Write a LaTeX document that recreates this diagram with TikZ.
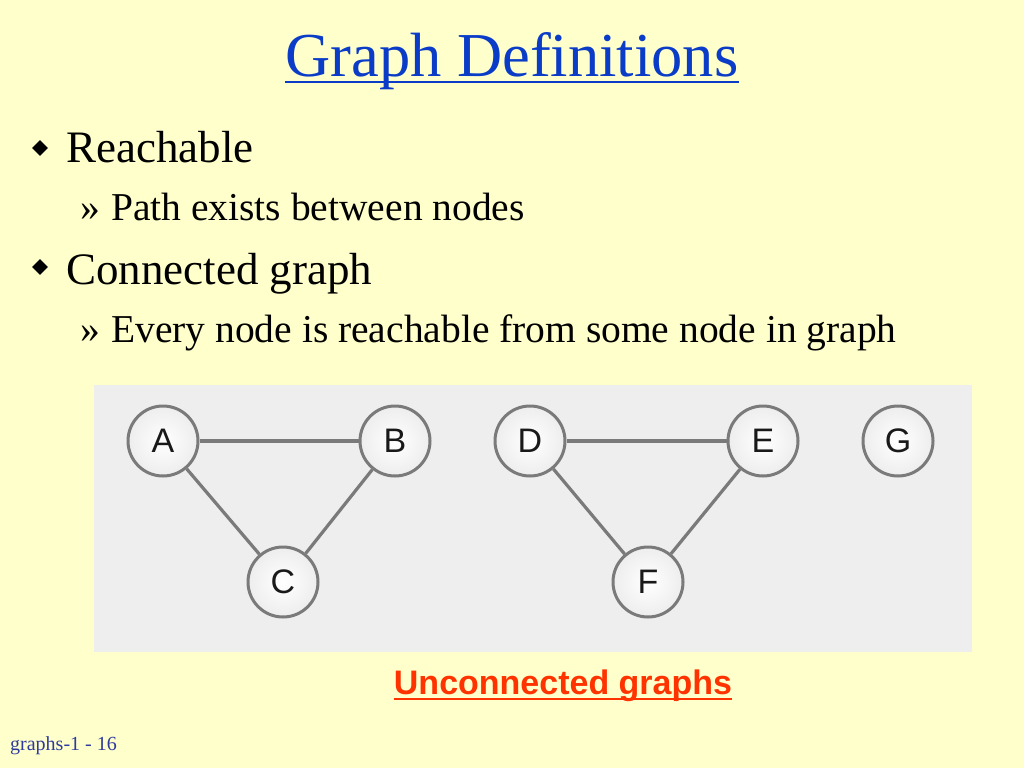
\documentclass[tikz,border=0pt]{standalone}
\usepackage{fontspec}
\setmainfont{Liberation Serif}
\setsansfont{Liberation Sans}
\usepackage{tikz}
\usetikzlibrary{calc,shapes.geometric}
\definecolor{slideYellow}{HTML}{FFFFCC}
\definecolor{slidePanel}{HTML}{EEEEEE}
\definecolor{titleBlue}{HTML}{0A3CC8}
\definecolor{footBlue}{HTML}{2E3B9E}
\definecolor{edgeGray}{HTML}{7A7A7A}
\definecolor{noteRed}{HTML}{FF3300}
\tikzset{
  vertex/.style={
    circle,
    draw=edgeGray,
    line width=3pt,
    inner color=white,
    outer color=black!7,
    minimum size=70pt,
    inner sep=0pt,
    text=black!90,
    font=\sffamily\fontsize{34}{34}\selectfont
  },
  edge/.style={draw=edgeGray, line width=3.2pt},
  bullet/.style={diamond, fill=black, inner sep=0pt, minimum size=16pt},
  item/.style={anchor=base west, inner sep=0pt, font=\fontsize{45}{45}\selectfont},
  subitem/.style={anchor=base west, inner sep=0pt, font=\fontsize{39.5}{40}\selectfont}
}

\begin{document}
\begin{tikzpicture}[x=1pt, y=-1pt]
  \useasboundingbox[fill=slideYellow] (0,0) rectangle (1024,768);

  % title
  \node[anchor=base, inner sep=0pt, text=titleBlue, font=\fontsize{62.5}{63}\selectfont] (title) at (512,76) {Graph Definitions};
  \draw[titleBlue, line width=2.5pt] ($(title.base west)+(0,6)$) -- ($(title.base east)+(0,6)$);

  % bullets
  \node[bullet] (dot1) at (40,148) {};
  \node[item] (reach) at (66,162) {Reachable};
  \node[subitem] (quote1) at (80,220) {»};
  \node[subitem] (path) at (111,220) {Path exists between nodes};
  \node[bullet] (dot2) at (40,267) {};
  \node[item] (conn) at (66,284) {Connected graph};
  \node[subitem] (quote2) at (80,342) {»};
  \node[subitem] (every) at (111,342) {Every node is reachable from some node in graph};

  % graphs
  \fill[slidePanel] (94,385) rectangle (972,652);
  \node[vertex] (A) at (163,441) {A};
  \node[vertex] (B) at (395,441) {B};
  \node[vertex] (C) at (283,582) {C};
  \node[vertex] (D) at (530,441) {D};
  \node[vertex] (E) at (763,441) {E};
  \node[vertex] (F) at (648,582) {F};
  \node[vertex] (G) at (898,441) {G};

  \draw[edge] (A) -- (B);
  \draw[edge] (A) -- (C);
  \draw[edge] (B) -- (C);
  \draw[edge] (D) -- (E);
  \draw[edge] (D) -- (F);
  \draw[edge] (E) -- (F);

  % caption and footer
  \node[anchor=base, inner sep=0pt, text=noteRed, font=\sffamily\bfseries\fontsize{34}{34}\selectfont] (note) at (563,694) {Unconnected graphs};
  \draw[noteRed, line width=2.5pt] ($(note.base west)+(0,5)$) -- ($(note.base east)+(0,5)$);
  \node[anchor=base west, inner sep=0pt, text=footBlue, font=\fontsize{20}{20}\selectfont] (foot) at (10,750) {graphs-1 - 16};
\end{tikzpicture}
\end{document}
